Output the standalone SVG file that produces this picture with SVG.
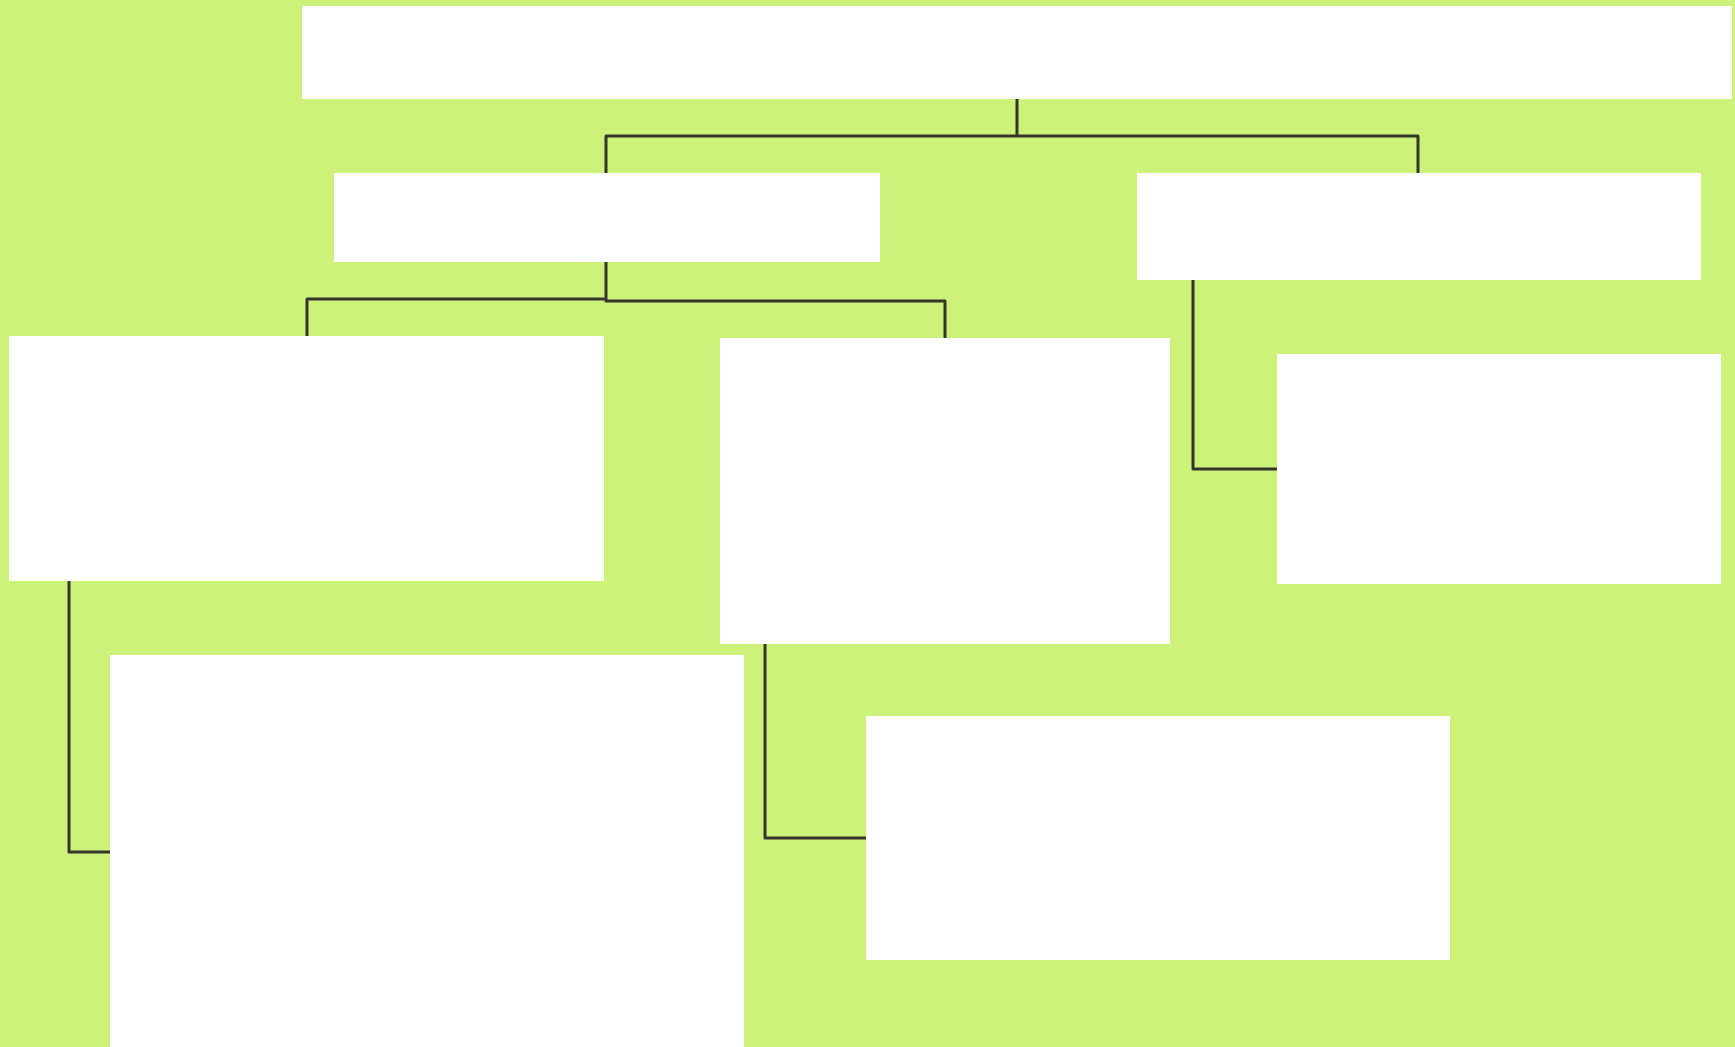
<svg xmlns="http://www.w3.org/2000/svg" width="1735" height="1047" viewBox="0 0 1735 1047">
  <style>
    .node { fill: #ffffff; }
    .conn { fill: none; stroke: #35352a; stroke-width: 3; stroke-linejoin: round; stroke-linecap: round; }
  </style>
  <rect x="0" y="0" width="1735" height="1047" fill="#ccf27a"/>
  <g id="connectors">
    <path class="conn" d="M1017,99 V136 M606,173 V136 H1418 V173"/>
    <path class="conn" d="M606,262 V301 M307,336 V299 H606 M606,301 H945 V338"/>
    <path class="conn" d="M1193,280 V469 H1277"/>
    <path class="conn" d="M69,581 V852 H110"/>
    <path class="conn" d="M765,644 V838 H866"/>
  </g>
  <g id="node-root"><rect class="node" x="302" y="6" width="1430" height="93"/></g>
  <g id="node-left"><rect class="node" x="334" y="173" width="546" height="89"/></g>
  <g id="node-right"><rect class="node" x="1137" y="173" width="564" height="107"/></g>
  <g id="node-left-a"><rect class="node" x="9" y="336" width="595" height="245"/></g>
  <g id="node-left-b"><rect class="node" x="720" y="338" width="450" height="306"/></g>
  <g id="node-right-a"><rect class="node" x="1277" y="354" width="444" height="230"/></g>
  <g id="node-left-a-1"><rect class="node" x="110" y="655" width="634" height="400"/></g>
  <g id="node-left-b-1"><rect class="node" x="866" y="716" width="584" height="244"/></g>
</svg>
